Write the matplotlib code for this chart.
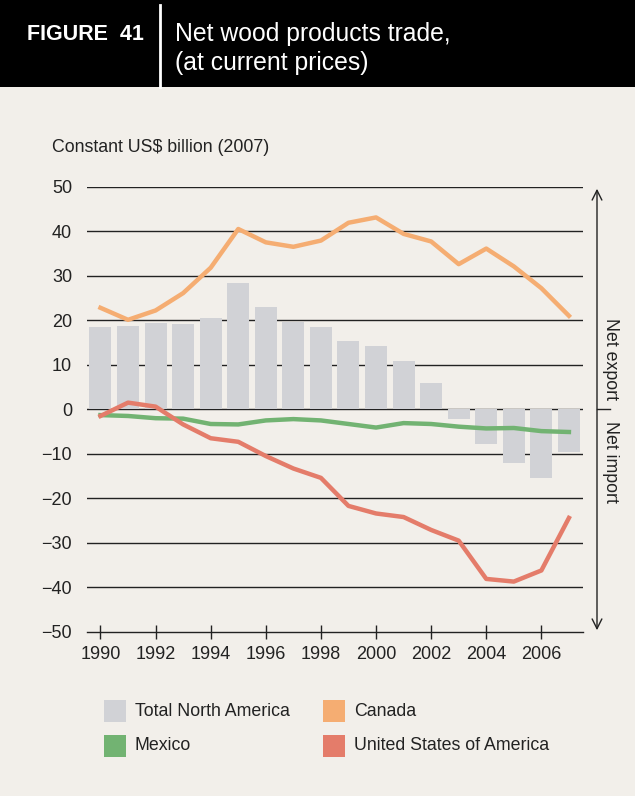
import matplotlib.pyplot as plt
from matplotlib.patches import Rectangle, FancyArrowPatch
from matplotlib.lines import Line2D

plt.rcParams['font.family'] = ['Liberation Sans', 'DejaVu Sans']

years = list(range(1990, 2008))
total_na = [18.5, 18.7, 19.4, 19.2, 20.5, 28.4, 23.0, 19.7, 18.5, 15.4,
            14.2, 10.9, 5.9, -2.2, -7.8, -12.1, -15.4, -9.7]
canada = [22.8, 20.1, 22.2, 26.1, 31.8, 40.5, 37.5, 36.5, 37.9, 41.9,
          43.1, 39.4, 37.7, 32.6, 36.1, 32.1, 27.2, 21.0]
mexico = [-1.3, -1.5, -2.0, -2.1, -3.3, -3.4, -2.5, -2.2, -2.5, -3.3,
          -4.1, -3.1, -3.3, -3.9, -4.3, -4.2, -4.9, -5.1]
usa = [-1.5, 1.5, 0.6, -3.4, -6.5, -7.3, -10.5, -13.3, -15.4, -21.7,
       -23.4, -24.2, -27.1, -29.5, -38.1, -38.7, -36.2, -24.4]

bg = '#f2efea'
c_bar = '#d1d2d6'
c_can = '#f5ad72'
c_mex = '#72b372'
c_usa = '#e47c6a'
txt = '#222222'

W, H = 635, 796
fig = plt.figure(figsize=(W / 100, H / 100), dpi=100)
fig.patch.set_facecolor(bg)

# header
fig.patches.append(Rectangle((0, 1 - 87 / H), 1, 87 / H, transform=fig.transFigure,
                             facecolor='black', edgecolor='none', zorder=0))
fig.lines.append(Line2D([160 / W, 160 / W], [1 - 5 / H, 1 - 87 / H], transform=fig.transFigure,
                        color='white', lw=2))
fig.text(27 / W, 1 - 35 / H, 'FIGURE  41', color='white', fontsize=15.5, fontweight='bold',
         va='center', ha='left')
fig.text(175 / W, 1 - 34 / H, 'Net wood products trade,', color='white', fontsize=17.8,
         va='center', ha='left')
fig.text(175 / W, 1 - 63 / H, '(at current prices)', color='white', fontsize=17.8,
         va='center', ha='left')

ax = fig.add_axes([86.7 / W, 1 - 631.9 / H, (582.7 - 86.7) / W, (631.9 - 186.7) / H])
ax.set_facecolor(bg)
ax.set_xlim(1989.5, 2007.5)
ax.set_ylim(-50, 50)

for v in range(-40, 51, 10):
    ax.axhline(v, color=txt, lw=1.0, zorder=1)

ax.bar(years, total_na, width=0.8, color=c_bar, zorder=2)
ax.plot(years, canada, color=c_can, lw=3.2, zorder=3)
ax.plot(years, mexico, color=c_mex, lw=3.2, zorder=3)
ax.plot(years, usa, color=c_usa, lw=3.2, zorder=3)

for s in ['left', 'right', 'top']:
    ax.spines[s].set_visible(False)
ax.spines['bottom'].set_color(txt)
ax.spines['bottom'].set_linewidth(1.0)
ax.set_xticks(range(1990, 2007, 2))
ax.set_yticks(range(-50, 51, 10))
ax.set_yticklabels([('\u2212%d' % -v if v < 0 else str(v)) for v in range(-50, 51, 10)])
ax.tick_params(axis='x', direction='inout', length=10, width=1, color=txt,
               labelsize=13, pad=5, labelcolor=txt)
ax.tick_params(axis='y', length=0, labelsize=13, pad=10.5, labelcolor=txt)

fig.text(52 / W, 1 - 148 / H, 'Constant US$ billion (2007)', fontsize=12.8,
         color=txt, va='center', ha='left')

# net export / net import arrow
fig.patches.append(FancyArrowPatch((597 / W, 1 - 633 / H), (597 / W, 1 - 186 / H),
                                   transform=fig.transFigure,
                                   arrowstyle='<->,head_length=7,head_width=3.5',
                                   color=txt, lw=1, mutation_scale=1))
fig.lines.append(Line2D([597 / W, 610 / W], [1 - 409.3 / H, 1 - 409.3 / H],
                        transform=fig.transFigure, color=txt, lw=1))
fig.text(611 / W, 1 - 359 / H, 'Net export', rotation=270, fontsize=12.8, color=txt,
         va='center', ha='center')
fig.text(611 / W, 1 - 462 / H, 'Net import', rotation=270, fontsize=12.8, color=txt,
         va='center', ha='center')

# legend
entries = [(104, 700, c_bar, 'Total North America'), (323, 700, c_can, 'Canada'),
           (104, 735, c_mex, 'Mexico'), (323, 735, c_usa, 'United States of America')]
for x, y, c, lab in entries:
    fig.patches.append(Rectangle((x / W, 1 - (y + 22) / H), 22 / W, 22 / H,
                                 transform=fig.transFigure, facecolor=c, edgecolor='none'))
    fig.text((x + 31) / W, 1 - (y + 11) / H, lab, fontsize=12.8, color=txt,
             va='center', ha='left')

fig.savefig('out.png', dpi=100, facecolor=bg)
